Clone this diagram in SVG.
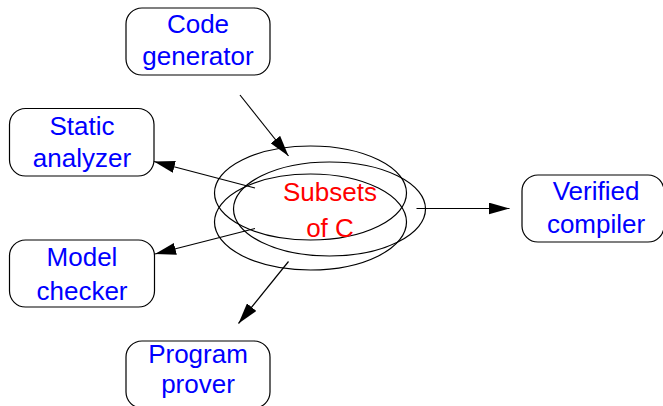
<svg xmlns="http://www.w3.org/2000/svg" width="663" height="406" viewBox="0 0 663 406">
<defs>
<style>
.box{fill:#fff;stroke:#000;stroke-width:1.2}
.lbl{font-family:"Liberation Sans",Arial,sans-serif;font-size:26px;fill:#0000ff;text-anchor:middle}
.ctr{font-family:"Liberation Sans",Arial,sans-serif;font-size:26px;fill:#ff0000;text-anchor:middle}
.ell{fill:none;stroke:#000;stroke-width:1.2}
.edge{fill:none;stroke:#000;stroke-width:1.2;marker-end:url(#ah)}
</style>
<marker id="ah" markerUnits="userSpaceOnUse" markerWidth="22" markerHeight="12" refX="21" refY="6" orient="auto">
<path d="M0,0 L21,6 L0,12 Z" fill="#000"/>
</marker>
</defs>
<rect width="663" height="406" fill="#fff"/>
<g id="subsets">
<ellipse class="ell" cx="310.5" cy="193" rx="96" ry="47"/>
<ellipse class="ell" cx="310.5" cy="222" rx="96" ry="48"/>
<ellipse class="ell" cx="329.5" cy="209" rx="96" ry="47"/>
<text class="ctr" x="330" y="201">Subsets</text>
<text class="ctr" x="330" y="237">of C</text>
</g>
<g id="code-generator">
<rect class="box" x="126" y="8" width="144" height="67" rx="16"/>
<text class="lbl" x="198" y="33">Code</text>
<text class="lbl" x="198" y="65">generator</text>
</g>
<g id="static-analyzer">
<rect class="box" x="9.5" y="108.5" width="144.5" height="67.5" rx="16"/>
<text class="lbl" x="82" y="135">Static</text>
<text class="lbl" x="82" y="167">analyzer</text>
</g>
<g id="model-checker">
<rect class="box" x="9.5" y="240" width="145" height="67" rx="16"/>
<text class="lbl" x="82" y="266">Model</text>
<text class="lbl" x="82" y="300">checker</text>
</g>
<g id="program-prover">
<rect class="box" x="126" y="341" width="144" height="67" rx="16"/>
<text class="lbl" x="198" y="363">Program</text>
<text class="lbl" x="198" y="393">prover</text>
</g>
<g id="verified-compiler">
<rect class="box" x="522" y="175" width="142" height="67" rx="16"/>
<text class="lbl" x="596" y="200">Verified</text>
<text class="lbl" x="596" y="233">compiler</text>
</g>
<g id="connectors">
<line class="edge" x1="240" y1="95" x2="288.5" y2="156"/>
<line class="edge" x1="255" y1="188" x2="154" y2="161.5"/>
<line class="edge" x1="255" y1="228.5" x2="155" y2="254"/>
<line class="edge" x1="288.5" y1="261.5" x2="238.5" y2="323.5"/>
<line class="edge" x1="416.5" y1="208.5" x2="509.5" y2="208.5"/>
</g>
</svg>
